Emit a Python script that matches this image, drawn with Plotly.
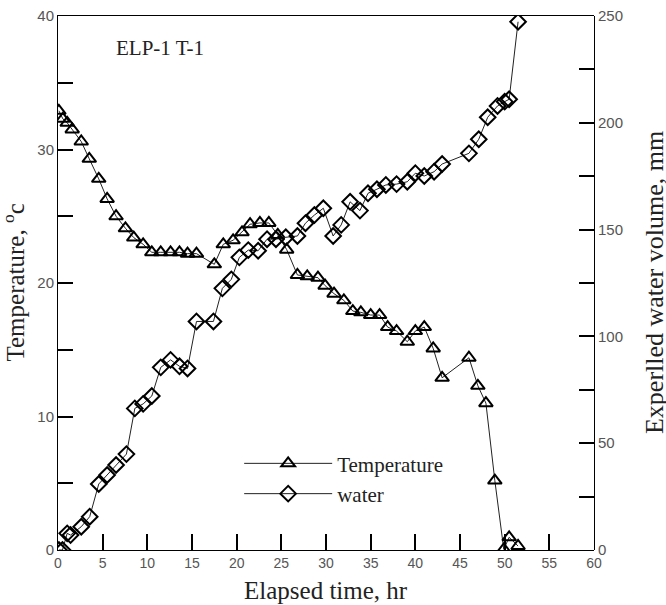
import plotly.graph_objects as go

# ---- data ----
time_temp = [0.1, 0.54, 1.03, 1.59, 2.6, 3.5, 4.56, 5.5, 6.5, 7.55, 8.48, 9.53, 10.5,
             11.5, 12.6, 13.6, 14.5, 15.5, 17.5, 18.5, 19.6, 20.6, 21.5, 22.6, 23.6,
             24.6, 25.6, 26.8, 27.9, 29.1, 29.9, 30.9, 32.0, 33.0, 33.9, 35.0, 36.0,
             36.9, 37.9, 39.1, 40.0, 41.0, 42.0, 43.0, 46.0, 47.0, 47.9, 48.9, 49.9,
             50.5, 51.5]
temperature = [32.9, 32.3, 32.0, 31.5, 30.6, 29.3, 27.8, 26.3, 25.0, 24.1, 23.4, 22.9, 22.3,
               22.3, 22.3, 22.3, 22.2, 22.2, 21.4, 22.9, 23.2, 23.8, 24.4, 24.5, 24.5,
               23.6, 22.5, 20.6, 20.5, 20.4, 19.8, 19.2, 18.7, 17.9, 17.8, 17.6, 17.6,
               16.7, 16.4, 15.6, 16.4, 16.7, 15.1, 12.9, 14.4, 12.3, 11.0, 5.2, 0.05,
               0.95, 0.3]

time_water = [0.1, 0.5, 1.03, 1.4, 2.6, 3.55, 4.56, 5.5, 6.5, 7.66, 8.6, 9.53, 10.5,
              11.5, 12.6, 13.6, 14.5, 15.5, 17.4, 18.4, 19.4, 20.3, 21.3, 22.4, 23.4,
              24.4, 25.5, 26.8, 27.7, 28.7, 29.7, 30.8, 31.7, 32.7, 33.8, 34.7, 35.7,
              36.7, 37.9, 39.1, 40.0, 41.0, 42.1, 43.0, 46.0, 47.1, 48.1, 49.2, 50.0,
              50.5, 51.5]
water = [0, 0, 7.8, 7.0, 10.9, 15.6, 30.9, 35.1, 39.8, 44.9, 66.3, 68.4, 72.1,
         85.5, 89.0, 86.0, 85.0, 107.0, 107.0, 122.5, 126.7, 137.0, 140.4, 140.1, 145.5,
         145.5, 146.4, 147.0, 153.0, 156.8, 160.0, 147.0, 152.2, 163.0, 158.9, 167.0, 168.9,
         170.9, 171.3, 172.4, 176.4, 175.1, 177.1, 180.7, 185.7, 192.3, 202.6, 207.9, 209.9,
         211.0, 247.3]

x_ticks = [0, 5, 10, 15, 20, 25, 30, 35, 40, 45, 50, 55, 60]
x_ticktext = [str(v) for v in x_ticks]
temp_ticks = [0, 5, 10, 15, 20, 25, 30, 35, 40]
temp_ticktext = [str(v) if v % 10 == 0 else "" for v in temp_ticks]
water_ticks = [0, 25, 50, 75, 100, 125, 150, 175, 200, 225, 250]
water_ticktext = [str(v) if v % 50 == 0 else "" for v in water_ticks]

SERIF = "Liberation Serif"
SANS = "Liberation Sans"
AX = "black"
TXT = "#222222"
TICKTXT = "#555555"

fig = go.Figure()
fig.add_trace(go.Scatter(
    x=time_temp, y=temperature, name="Temperature", mode="lines+markers",
    line=dict(color=TXT, width=1),
    marker=dict(symbol="triangle-up-open", size=12, color="black", line=dict(width=2)),
    xaxis="x", yaxis="y"))
fig.add_trace(go.Scatter(
    x=time_water, y=water, name="water", mode="lines+markers",
    line=dict(color=TXT, width=1),
    marker=dict(symbol="diamond-open", size=12, color="black", line=dict(width=2)),
    xaxis="x2", yaxis="y2"))

fig.update_layout(
    template="none",
    width=666, height=605,
    margin=dict(l=58, r=72, t=16, b=55),
    paper_bgcolor="white", plot_bgcolor="rgba(0,0,0,0)",
    showlegend=True,
    legend=dict(x=0.338, y=0.2, xanchor="left", yanchor="top",
                font=dict(family=SERIF, size=21, color=TXT),
                bgcolor="rgba(0,0,0,0)", itemwidth=88),
    xaxis=dict(
        domain=[0, 1], anchor="y",
        range=[0, 60], tickmode="array", tickvals=x_ticks, ticktext=x_ticktext,
        ticks="inside", ticklen=16, tickwidth=1.5, tickcolor=AX,
        showline=True, linecolor=AX, mirror=True,
        showgrid=False, zeroline=False,
        tickfont=dict(family=SANS, size=14, color=TICKTXT),
    ),
    yaxis=dict(
        domain=[0, 1], anchor="x",
        range=[0, 40], tickmode="array", tickvals=temp_ticks, ticktext=temp_ticktext,
        ticks="inside", ticklen=15, tickwidth=1.5, tickcolor=AX,
        showline=True, linecolor=AX,
        showgrid=False, zeroline=False,
        tickfont=dict(family=SANS, size=15, color=TICKTXT),
    ),
    xaxis2=dict(
        domain=[0, 1], anchor="y2", matches="x", visible=False,
        range=[0, 60], showgrid=False, zeroline=False,
    ),
    yaxis2=dict(
        domain=[0, 1], anchor="x2", side="right",
        range=[0, 250], tickmode="array", tickvals=water_ticks, ticktext=water_ticktext,
        ticks="inside", ticklen=15, tickwidth=1.5, tickcolor=AX,
        showline=True, linecolor=AX,
        showgrid=False, zeroline=False,
        tickfont=dict(family=SANS, size=15, color=TICKTXT),
    ),
    annotations=[
        dict(text="ELP-1 T-1", xref="paper", yref="paper", x=0.105, y=0.94,
             xanchor="left", yanchor="middle", showarrow=False,
             font=dict(family=SERIF, size=21, color=TXT)),
        dict(text="Elapsed time, hr", xref="paper", yref="paper", x=0.5, y=-0.075,
             xanchor="center", yanchor="middle", showarrow=False,
             font=dict(family=SERIF, size=25, color=TXT)),
        dict(text="Temperature, <sup>o</sup>c", xref="paper", yref="paper", x=-0.083, y=0.5,
             xanchor="center", yanchor="middle", textangle=-90, showarrow=False,
             font=dict(family=SERIF, size=25, color=TXT)),
        dict(text="Experlled water volume, mm", xref="paper", yref="paper", x=1.112, y=0.5,
             xanchor="center", yanchor="middle", textangle=-90, showarrow=False,
             font=dict(family=SERIF, size=26, color=TXT)),
    ],
)

fig.write_html("out.html")
